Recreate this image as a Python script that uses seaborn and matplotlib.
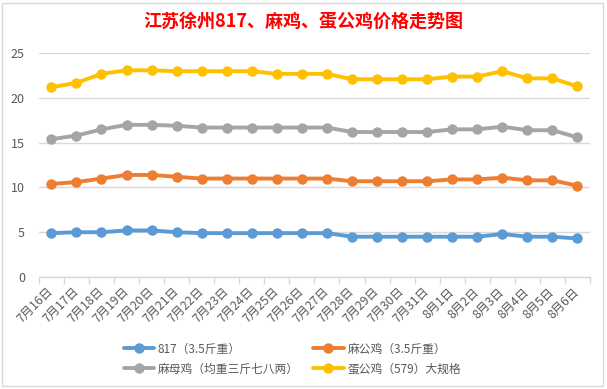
#!/usr/bin/env python3

import pandas as pd
import seaborn as sns
from matplotlib import pyplot as plt
from matplotlib.patches import Rectangle

# dates on the x axis
dates = ["7月16日", "7月17日", "7月18日", "7月19日", "7月20日", "7月21日",
         "7月22日", "7月23日", "7月24日", "7月25日", "7月26日", "7月27日",
         "7月28日", "7月29日", "7月30日", "7月31日", "8月1日", "8月2日",
         "8月3日", "8月4日", "8月5日", "8月6日"]

# prices
price_817 = [4.9, 5.0, 5.0, 5.2, 5.2, 5.0, 4.9, 4.9, 4.9, 4.9, 4.9, 4.9,
             4.5, 4.5, 4.5, 4.5, 4.5, 4.5, 4.8, 4.5, 4.5, 4.3]
price_ma_gong = [10.4, 10.6, 11.0, 11.4, 11.4, 11.2, 11.0, 11.0, 11.0, 11.0,
                 11.0, 11.0, 10.7, 10.7, 10.7, 10.7, 10.9, 10.9, 11.1, 10.8,
                 10.8, 10.2]
price_ma_mu = [15.4, 15.8, 16.5, 17.0, 17.0, 16.9, 16.7, 16.7, 16.7, 16.7,
               16.7, 16.7, 16.2, 16.2, 16.2, 16.2, 16.5, 16.5, 16.8, 16.4,
               16.4, 15.6]
price_dan_gong = [21.2, 21.7, 22.7, 23.1, 23.1, 23.0, 23.0, 23.0, 23.0, 22.7,
                  22.7, 22.7, 22.1, 22.1, 22.1, 22.1, 22.4, 22.4, 23.0, 22.2,
                  22.2, 21.3]

series_names = ["817（3.5斤重）", "麻公鸡（3.5斤重）",
                "麻母鸡（均重三斤七八两）", "蛋公鸡（579）大规格"]
colors = ["#5B9BD5", "#ED7D31", "#A5A5A5", "#FFC000"]


def build_frame() -> pd.DataFrame:
    """Put all series into one long DataFrame for seaborn."""
    frames = []
    for name, values in zip(series_names,
                            [price_817, price_ma_gong, price_ma_mu,
                             price_dan_gong]):
        frames.append(pd.DataFrame({"idx": range(len(dates)),
                                    "price": values, "series": name}))
    return pd.concat(frames, ignore_index=True)


def plot(df: pd.DataFrame, fig_location: str = "out.png"):
    sns.set_theme(style="white")
    plt.rcParams["font.family"] = ["Noto Sans CJK SC", "DejaVu Sans"]

    fig = plt.figure(figsize=(6.07, 3.89), dpi=100)
    ax = fig.add_axes([0.064, 0.288, 0.908, 0.575])

    sns.lineplot(data=df, x="idx", y="price", hue="series",
                 hue_order=series_names, palette=colors, marker="o",
                 markersize=7.5, markeredgewidth=0, linewidth=2.8, ax=ax)

    ax.set_xlim(-0.5, len(dates) - 0.5)
    ax.set_ylim(0, 25)
    ax.set_yticks([0, 5, 10, 15, 20, 25])
    ax.yaxis.grid(True, color="#D9D9D9", linewidth=1)
    ax.set_axisbelow(True)
    for side in ["left", "right", "top"]:
        ax.spines[side].set_visible(False)
    ax.spines["bottom"].set_color("#D9D9D9")
    ax.spines["bottom"].set_linewidth(1)

    # tick marks sit between categories, labels at category centers
    ax.set_xticks([i - 0.5 for i in range(len(dates) + 1)], minor=False)
    ax.set_xticklabels([])
    ax.tick_params(axis="x", which="major", direction="out", length=5,
                   color="#D9D9D9", width=1, bottom=True)
    ax.set_xticks(range(len(dates)), minor=True)
    ax.set_xticklabels(dates, minor=True, rotation=45, ha="right",
                       va="center", rotation_mode="anchor")
    ax.tick_params(axis="x", which="minor", length=0, pad=9,
                   labelsize=8.8, labelcolor="#595959")
    ax.tick_params(axis="y", length=0, labelsize=9, labelcolor="#595959",
                   pad=10)
    ax.set_xlabel("")
    ax.set_ylabel("")

    # legend is filled row by row in the original
    handles, labels = ax.get_legend_handles_labels()
    order = [0, 2, 1, 3]
    ax.legend([handles[i] for i in order], [labels[i] for i in order],
              ncol=2, loc="upper center", bbox_to_anchor=(0.46, -0.245),
              frameon=False, fontsize=8.5, labelcolor="#595959",
              handlelength=2.6, columnspacing=1.2, handletextpad=0.3,
              labelspacing=0.6)

    fig.text(0.5, 0.945, "江苏徐州817、麻鸡、蛋公鸡价格走势图", ha="center",
             va="center", color="#FF0000", fontsize=13, fontweight="bold")

    fig.patches.append(Rectangle((0.004, 0.008), 0.99, 0.985,
                                 transform=fig.transFigure, fill=False,
                                 edgecolor="#D9D9D9", linewidth=1))

    fig.savefig(fig_location, dpi=100)


if __name__ == "__main__":
    plot(build_frame())
